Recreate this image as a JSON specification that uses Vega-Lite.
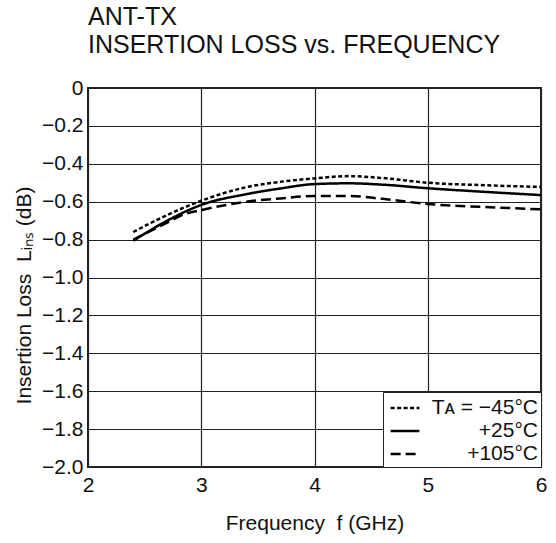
{
  "$schema": "https://vega.github.io/schema/vega-lite/v6.json",
  "width": 453,
  "height": 379,
  "autosize": "none",
  "padding": {"left": 88, "top": 88, "right": 15, "bottom": 76},
  "config": {
    "font": "Liberation Sans",
    "view": {"stroke": "#222", "strokeWidth": 2}
  },
  "title": {
    "text": ["ANT-TX", "INSERTION LOSS vs. FREQUENCY"],
    "anchor": "start",
    "frame": "group",
    "fontSize": 25,
    "fontWeight": "normal",
    "lineHeight": 28,
    "color": "#111",
    "offset": 19
  },
  "data": {
    "values": [
      {"f": 2.4, "loss": -0.76, "temp": "-45"},
      {"f": 2.7, "loss": -0.67, "temp": "-45"},
      {"f": 3.0, "loss": -0.595, "temp": "-45"},
      {"f": 3.4, "loss": -0.523, "temp": "-45"},
      {"f": 3.7, "loss": -0.495, "temp": "-45"},
      {"f": 4.0, "loss": -0.477, "temp": "-45"},
      {"f": 4.3, "loss": -0.465, "temp": "-45"},
      {"f": 4.6, "loss": -0.475, "temp": "-45"},
      {"f": 5.0, "loss": -0.5, "temp": "-45"},
      {"f": 5.5, "loss": -0.513, "temp": "-45"},
      {"f": 6.0, "loss": -0.522, "temp": "-45"},
      {"f": 2.4, "loss": -0.806, "temp": "+25"},
      {"f": 2.7, "loss": -0.7, "temp": "+25"},
      {"f": 3.0, "loss": -0.617, "temp": "+25"},
      {"f": 3.4, "loss": -0.56, "temp": "+25"},
      {"f": 3.7, "loss": -0.53, "temp": "+25"},
      {"f": 4.0, "loss": -0.507, "temp": "+25"},
      {"f": 4.3, "loss": -0.503, "temp": "+25"},
      {"f": 4.6, "loss": -0.51, "temp": "+25"},
      {"f": 5.0, "loss": -0.529, "temp": "+25"},
      {"f": 5.5, "loss": -0.548, "temp": "+25"},
      {"f": 6.0, "loss": -0.565, "temp": "+25"},
      {"f": 2.4, "loss": -0.8, "temp": "+105"},
      {"f": 2.7, "loss": -0.71, "temp": "+105"},
      {"f": 2.87, "loss": -0.662, "temp": "+105"},
      {"f": 3.0, "loss": -0.644, "temp": "+105"},
      {"f": 3.4, "loss": -0.6, "temp": "+105"},
      {"f": 3.7, "loss": -0.583, "temp": "+105"},
      {"f": 4.0, "loss": -0.57, "temp": "+105"},
      {"f": 4.3, "loss": -0.57, "temp": "+105"},
      {"f": 4.6, "loss": -0.585, "temp": "+105"},
      {"f": 5.0, "loss": -0.612, "temp": "+105"},
      {"f": 5.5, "loss": -0.628, "temp": "+105"},
      {"f": 6.0, "loss": -0.64, "temp": "+105"}
    ]
  },
  "mark": {"type": "line", "color": "#000", "strokeWidth": 2.5, "interpolate": "monotone"},
  "encoding": {
    "x": {
      "field": "f",
      "type": "quantitative",
      "scale": {"domain": [2, 6], "nice": false, "zero": false},
      "axis": {
        "title": "Frequency\u00a0 f (GHz)",
        "values": [2, 3, 4, 5, 6],
        "grid": true,
        "gridColor": "#222",
        "gridOpacity": 1,
        "gridWidth": 1.2,
        "domain": false,
        "ticks": false,
        "labelFontSize": 21,
        "labelColor": "#111",
        "labelPadding": 7,
        "labelFlush": false,
        "titleFontSize": 21,
        "titleFontWeight": "normal",
        "titleColor": "#111",
        "titlePadding": 17
      }
    },
    "y": {
      "field": "loss",
      "type": "quantitative",
      "scale": {"domain": [-2, 0], "nice": false, "zero": false},
      "axis": {
        "title": "Insertion Loss\u00a0 Lᵢₙₛ (dB)",
        "values": [0, -0.2, -0.4, -0.6, -0.8, -1.0, -1.2, -1.4, -1.6, -1.8, -2.0],
        "labelExpr": "datum.value == 0 ? '0' : format(datum.value, '.1f')",
        "grid": true,
        "gridColor": "#222",
        "gridOpacity": 1,
        "gridWidth": 1.2,
        "domain": false,
        "ticks": false,
        "labelFontSize": 21,
        "labelColor": "#111",
        "labelPadding": 5,
        "labelFlush": false,
        "titleFontSize": 21,
        "titleFontWeight": "normal",
        "titleColor": "#111",
        "titlePadding": 7,
        "titleY": 207
      }
    },
    "strokeDash": {
      "field": "temp",
      "type": "nominal",
      "scale": {"domain": ["-45", "+25", "+105"], "range": [[4, 2.5], [1, 0], [10, 5]]},
      "legend": {
        "orient": "bottom-right",
        "offset": 0,
        "title": null,
        "fillColor": "white",
        "strokeColor": "#222",
        "padding": 3,
        "symbolType": "M-1.25,0H1.25",
        "symbolSize": 529,
        "symbolOffset": 6,
        "symbolStrokeWidth": 2.5,
        "symbolStrokeColor": "#000",
        "labelFontSize": 21,
        "labelColor": "#111",
        "labelAlign": "right",
        "labelOffset": 120,
        "rowPadding": 0,
        "labelExpr": "datum.value == '-45' ? 'Tᴀ = −45°C' : datum.value + '°C'"
      }
    }
  }
}
